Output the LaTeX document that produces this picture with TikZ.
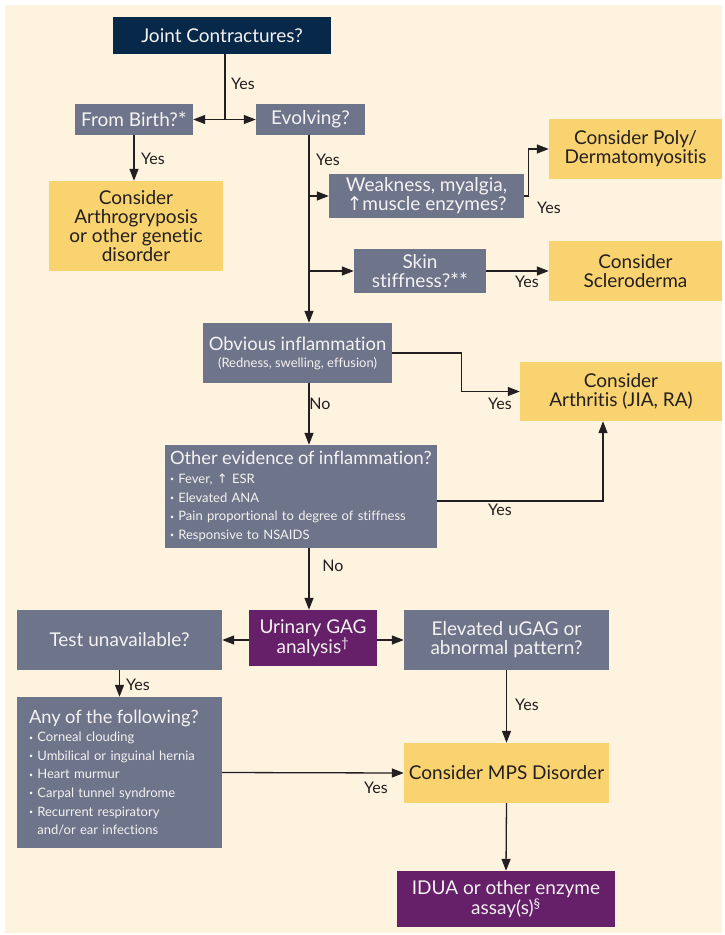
\documentclass[tikz,border=0pt]{standalone}
\usepackage{fontspec}
\setmainfont{Lato}[Ligatures=NoCommon]
\newfontfamily\symfont{DejaVu Sans}
\usetikzlibrary{arrows.meta}

\definecolor{bgcream}{HTML}{FDF3DF}
\definecolor{navy}{HTML}{072849}
\definecolor{slate}{HTML}{6E7489}
\definecolor{sand}{HTML}{F9D370}
\definecolor{plum}{HTML}{661F69}
\definecolor{ink}{HTML}{231F20}
\definecolor{boxtext}{HTML}{F4F2F2}

\newcommand{\bul}{\raisebox{1.6pt}{\fontsize{7}{7}\selectfont\textbullet}\ }
\newcommand{\uparr}{{\symfont ↑}}
\newcommand{\astk}{\raisebox{-1pt}{\fontsize{21}{21}\selectfont *}}

\begin{document}
\begin{tikzpicture}[x=1pt,y=-1pt,
    box/.style={rectangle, inner sep=3pt, align=center, font=\fontsize{19}{19}\selectfont},
    graybox/.style={box, fill=slate, text=boxtext},
    navybox/.style={box, fill=navy, text=boxtext},
    yellowbox/.style={box, fill=sand, text=ink},
    purplebox/.style={box, fill=plum, text=boxtext},
    listbox/.style={graybox, align=left, font=\fontsize{13}{18.6}\selectfont},
    lbl/.style={font=\fontsize{16}{16}\selectfont, text=ink, inner sep=0pt},
    conn/.style={draw=ink, line width=1.3pt},
    arr/.style={conn, -{Triangle[length=12pt,width=9pt]}}]

  \useasboundingbox (0,0) rectangle (725,935);
  \fill[bgcream] (5,5) rectangle (722,933);

  % top of the chart
  \node[navybox, minimum width=218, minimum height=37] (joint) at (222,35.5) {Joint Contractures?};
  \node[graybox, minimum width=118, minimum height=31] (birth) at (134,119.5) {From Birth?\astk};
  \node[graybox, minimum width=109, minimum height=31] (evolv) at (310.5,119.5) {Evolving?};
  \node[yellowbox, minimum width=174, minimum height=90] (arthro) at (136,226) {Consider\\Arthrogryposis\\or other genetic\\disorder};

  % evolving branch
  \node[graybox, minimum width=195, minimum height=44] (weak) at (426.5,196) {Weakness, myalgia,\\\uparr muscle enzymes?};
  \node[yellowbox, minimum width=173, minimum height=60] (poly) at (635.5,149) {Consider Poly/\\Dermatomyositis};
  \node[graybox, minimum width=132, minimum height=44] (skin) at (420,271) {Skin\\stiffness?\astk\astk};
  \node[yellowbox, minimum width=173, minimum height=60] (sclero) at (635.5,271) {Consider\\Scleroderma};
  \node[graybox, minimum width=189, minimum height=60] (obvious) at (297.5,353) {{\fontsize{18.4}{19}\selectfont Obvious inflammation}\\[-2pt]{\fontsize{13}{15}\selectfont (Redness, swelling, effusion)}};
  \node[yellowbox, minimum width=202, minimum height=59] (arthritis) at (621,391.5) {Consider\\Arthritis (JIA, RA)};
  \node[listbox, text width=262, minimum height=103, inner xsep=5pt] (other) at (301,496.5)
    {{\fontsize{18.3}{19}\selectfont Other evidence of inflammation?}\\
     \bul Fever, \uparr{} ESR\\
     \bul Elevated ANA\\
     \bul Pain proportional to degree of stiffness\\
     \bul Responsive to NSAIDS};

  % urine test and after
  \node[purplebox, minimum width=128, minimum height=56] (urinary) at (313,638) {Urinary GAG\\analysis\textsuperscript{\dag}};
  \node[graybox, minimum width=205, minimum height=60] (test) at (119.5,640) {Test unavailable?};
  \node[graybox, minimum width=205, minimum height=60] (elevated) at (506.5,640) {Elevated uGAG or\\abnormal pattern?};
  \node[listbox, text width=181, minimum height=151, inner xsep=12pt] (anyof) at (119.5,772.5)
    {{\fontsize{18.3}{19}\selectfont Any of the following?}\\
     \bul Corneal clouding\\
     \bul Umbilical or inguinal hernia\\
     \bul Heart murmur\\
     \bul Carpal tunnel syndrome\\
     \bul Recurrent respiratory\\
     \phantom{\bul}and/or ear infections};
  \node[yellowbox, minimum width=205, minimum height=60] (mps) at (506.5,773) {Consider MPS Disorder};
  \node[purplebox, minimum width=218, minimum height=56] (idua) at (506,899) {IDUA or other enzyme\\assay(s)\textsuperscript{\S}};

  % connectors
  \coordinate (split) at ([xshift=3pt]joint.south |- birth.east);
  \draw[conn] ([xshift=3pt]joint.south) -- (split);
  \draw[arr] (split) -- (birth.east);
  \draw[arr] (split) -- (evolv.west);
  \draw[arr] (birth.south) -- (birth.south |- arthro.north);

  \coordinate (trunk) at ([xshift=-1.5pt]evolv.south);
  \draw[arr] (trunk) -- (trunk |- obvious.north);
  \draw[arr] (trunk |- weak.west) -- (weak.west);
  \draw[arr] (trunk |- skin.west) -- (skin.west);
  \draw[arr] (weak.east) -- ++(4,0) |- (poly.west);
  \draw[arr] (skin.east) -- (sclero.west);
  \draw[arr] (obvious.east) -- ++(69,0) |- (arthritis.west);
  \draw[arr] (trunk |- obvious.south) -- (trunk |- other.north);
  \draw[arr] ([yshift=-4.5pt]other.east) -| ([xshift=-18pt]arthritis.south);
  \draw[arr] (trunk |- other.south) -- (trunk |- urinary.north);

  \draw[arr] (urinary.west |- test.east) -- (test.east);
  \draw[arr] (urinary.east |- elevated.west) -- (elevated.west);
  \draw[arr] (test.south) -- (anyof.north);
  \draw[arr] (anyof.east) -- (mps.west);
  \draw[arr] (elevated.south) -- (mps.north);
  \draw[arr] (mps.south) -- (idua.north);

  % labels
  \node[lbl] (yesjoint) at (243,84) {Yes};
  \node[lbl] (yesbirth) at (153,159) {Yes};
  \node[lbl] (yesevolv) at (328,160) {Yes};
  \node[lbl] (yesweak) at (549,208) {Yes};
  \node[lbl] (yesskin) at (527,282) {Yes};
  \node[lbl] (yesobv) at (500,404) {Yes};
  \node[lbl] (noobv) at (320,404) {No};
  \node[lbl] (yesother) at (500,510) {Yes};
  \node[lbl] (noother) at (333,566) {No};
  \node[lbl] (yestest) at (138,685) {Yes};
  \node[lbl] (yesany) at (376,788) {Yes};
  \node[lbl] (yeselev) at (527,705) {Yes};
\end{tikzpicture}
\end{document}
